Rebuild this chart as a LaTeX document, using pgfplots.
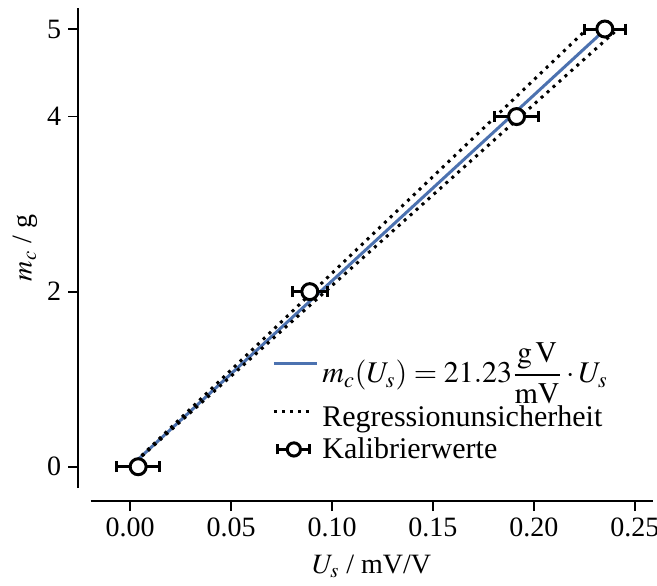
\documentclass[border=0pt]{standalone}
\usepackage{mathptmx}
\usepackage{fontspec}
\setmainfont{Liberation Serif}
\usepackage{pgfplots}
\pgfplotsset{compat=1.18}
\definecolor{sbblue}{HTML}{4C72B0}

\newcommand{\fs}{\fontsize{14}{16}\selectfont}
\newcommand{\fl}{\fontsize{15}{17}\selectfont}

\begin{document}
\begin{tikzpicture}
  \useasboundingbox (-45.35pt,-48.5pt) rectangle (283.15pt,244pt);
  \begin{axis}[
      scale only axis, width=281pt, height=240pt,
      at={(0,0)}, anchor=south west,
      xmin=-0.0195, xmax=0.2588, ymin=-0.243, ymax=5.24,
      axis x line*=bottom, axis y line*=left,
      axis x line shift=6.5pt, axis y line shift=6.2pt,
      axis line style={-, line width=0.9pt},
      tick align=outside, major tick length=5pt,
      tick style={line width=0.9pt, black},
      xtick={0,0.05,0.1,0.15,0.2,0.25},
      ytick={0,2,4,5},
      scaled x ticks=false,
      /pgf/number format/assume math mode=true,
      xticklabel style={/pgf/number format/fixed, /pgf/number format/fixed zerofill,
                        /pgf/number format/precision=2},
      tick label style={font=\fs},
      label style={font=\fs},
      xlabel={$U_s$ / mV/V},
      ylabel={$m_c$ / g},
      xlabel style={at={([yshift=-42.5pt]axis description cs:0.5,0)}, anchor=base},
      ylabel style={at={([xshift=-29.5pt]axis description cs:0,0.5)}, anchor=base},
      clip=false,
      legend style={at={(axis description cs:0.3226,0.313)}, anchor=north west,
                    draw=none, fill=none, inner sep=0pt, font=\fl,
                    row sep=0pt, cells={anchor=west}},
      legend cell align=left,
    ]
    % regression line and its uncertainty
    \addplot[sbblue, line width=1.5pt,
             legend image code/.code={\draw[sbblue, line width=1.5pt] (0pt,0pt) -- (21.5pt,0pt);}]
      coordinates {(0,0) (0.23552,5)};
    \addlegendentry{$m_c(U_s) = 21.23\displaystyle\frac{\mathrm{g\,V}}{\mathrm{mV}}\cdot U_s$}
    \addplot[black, line width=1.5pt, dash pattern=on 1.5pt off 2.5pt,
             legend image code/.code={\draw[black, line width=1.5pt, dash pattern=on 1.5pt off 2.5pt] (0pt,0pt) -- (19.5pt,0pt);}]
      coordinates {(0,0) (0.22624,5)};
    \addlegendentry{\rule{0pt}{16.5pt}Regressionunsicherheit}
    \addplot[black, line width=1.5pt, dash pattern=on 1.5pt off 2.5pt, forget plot]
      coordinates {(0,0) (0.24155,5)};
    % calibration points
    \addplot[only marks, mark=*, mark size=4pt,
             mark options={fill=white, draw=black, line width=1.5pt},
             error bars/.cd, x dir=both, x explicit,
             error bar style={line width=1.5pt, black},
             error mark options={rotate=90, mark size=2.75pt, line width=1.5pt, black},
             /pgfplots/.cd,
             legend image code/.code={
               \draw[black, line width=1.5pt] (2pt,0pt) -- (18pt,0pt);
               \draw[black, line width=1.5pt] (2pt,-2.5pt) -- (2pt,2.5pt);
               \draw[black, line width=1.5pt] (18pt,-2.5pt) -- (18pt,2.5pt);
               \draw[black, line width=1.5pt, fill=white] (10pt,0pt) circle (3.3pt);}]
      coordinates {
        (0.0040,0) +- (0.0106,0)
        (0.0890,2) +- (0.0088,0)
        (0.1914,4) +- (0.0108,0)
        (0.2351,5) +- (0.0100,0)
      };
    \addlegendentry{Kalibrierwerte}
  \end{axis}
\end{tikzpicture}
\end{document}
